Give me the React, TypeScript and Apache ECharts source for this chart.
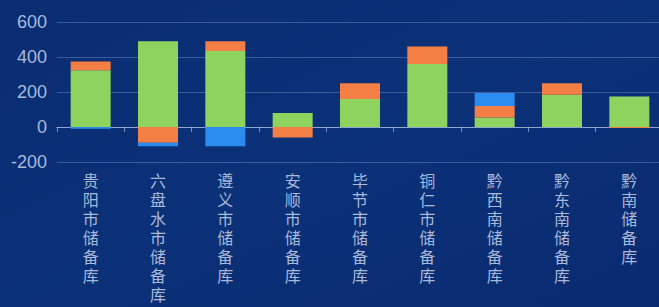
import React, { useEffect, useRef } from "react";
import * as echarts from "echarts";

const categories = ["贵阳市储备库", "六盘水市储备库", "遵义市储备库", "安顺市储备库", "毕节市储备库", "铜仁市储备库", "黔西南储备库", "黔东南储备库", "黔南储备库"];
const greenValues = [325, 490, 435, 80, 160, 360, 55, 185, 175];
const orangeValues = [50, -90, 55, -60, 90, 100, 65, 65, -5];
const blueValues = [-10, -20, -110, 0, 0, 0, 75, 0, 0];
const yTicks = { min: -200, max: 600, interval: 200 };

export default function App() {
  const ref = useRef<HTMLDivElement>(null);
  useEffect(() => {
    if (!ref.current) return;
    const chart = echarts.init(ref.current, undefined, { renderer: "svg" });
    const mk = (name: string, data: number[], color: string) => ({
      name,
      type: "bar",
      stack: "total",
      barWidth: 40,
      data,
      itemStyle: { color },
    });
    chart.setOption({
      animation: false,
      backgroundColor: {
        type: "linear", x: 0, y: 0, x2: 1, y2: 1,
        colorStops: [
          { offset: 0, color: "#0a2c72" },
          { offset: 0.5, color: "#0b3178" },
          { offset: 1, color: "#0a2a70" },
        ],
      },
      grid: { left: 57, right: -4, top: 22, bottom: 145, containLabel: false, outerBoundsMode: "none" },
      xAxis: {
        type: "category",
        data: categories,
        axisLine: { onZero: true, lineStyle: { color: "rgba(200,215,240,0.6)", width: 1 } },
        axisTick: { show: true, length: 5, lineStyle: { color: "rgba(200,215,240,0.55)" } },
        axisLabel: {
          interval: 0,
          margin: 8,
          color: "#a9b9da",
          fontSize: 16,
          lineHeight: 19,
          fontFamily: "Noto Sans CJK SC",
          formatter: (v: string) => v.split("").join("\n"),
          verticalAlign: "top",
        },
      },
      yAxis: {
        type: "value",
        min: yTicks.min,
        max: yTicks.max,
        interval: yTicks.interval,
        axisLine: { show: false },
        axisTick: { show: false },
        axisLabel: { color: "#a9b9da", fontSize: 18, margin: 10, fontFamily: "Liberation Sans" },
        splitLine: { lineStyle: { color: "rgba(150,175,220,0.35)", width: 1 } },
      },
      series: [
        mk("green", greenValues, "#8fd35f"),
        mk("orange", orangeValues, "#f47f45"),
        mk("blue", blueValues, "#2b8cf0"),
      ],
    });
    return () => chart.dispose();
  }, []);
  return (
    <div
      ref={ref}
      style={{ position: "fixed", left: 0, top: 0, width: 659, height: 307 }}
    />
  );
}
